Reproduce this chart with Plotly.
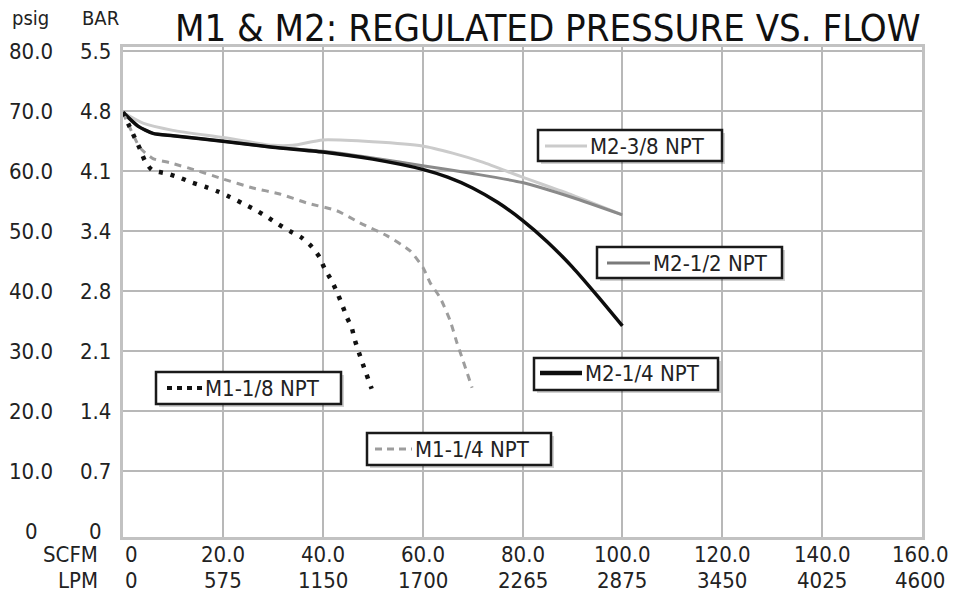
import plotly.graph_objects as go

# ---------------- data (SCFM vs psig) ----------------
m2_38_x = [0, 4, 10, 20, 30, 34, 40, 50, 60, 66, 72, 80, 90, 100]
m2_38_y = [69.8, 68.0, 66.8, 65.6, 64.3, 64.3, 65.2, 64.9, 64.2, 63.0, 61.5, 59.0, 56.0, 52.7]

m2_12_x = [0, 3, 6, 10, 20, 30, 40, 50, 60, 70, 80, 90, 100]
m2_12_y = [69.8, 67.5, 66.3, 65.9, 65.0, 64.0, 63.3, 62.2, 60.9, 59.6, 58.1, 55.6, 52.7]

m2_14_x = [0, 3, 6, 10, 20, 30, 40, 50, 60, 65, 70, 75, 80, 85, 90, 95, 100]
m2_14_y = [69.8, 67.5, 66.3, 65.9, 65.0, 64.0, 63.2, 62.0, 60.3, 59.0, 57.2, 54.8, 51.8, 48.2, 44.0, 39.2, 34.2]

m1_18_x = [0, 2.0, 3.4, 4.4, 5.8, 8.8, 11.4, 13.8, 16.4, 19.0, 21.4, 24.0, 26.4, 28.8, 31.0, 33.4,
           35.8, 37.8, 39.4, 40.4, 41.8, 42.8, 43.8, 44.8, 45.8, 46.4, 48.0, 49.8]
m1_18_y = [69.8, 66.2, 63.7, 61.7, 60.2, 59.6, 58.9, 58.1, 57.4, 56.6, 55.7, 54.6, 53.6, 52.4, 51.2, 50.0,
           48.9, 47.4, 45.6, 43.7, 41.7, 39.9, 37.9, 35.7, 33.9, 31.9, 27.9, 23.7]

m1_14_x = [0, 1.4, 3.4, 6.0, 9.4, 14.8, 20.0, 26.0, 31.4, 36.8, 42.8, 47.4, 52.9, 57.5, 60.1, 61.5,
           63.5, 65.5, 66.9, 68.1, 69.9]
m1_14_y = [69.7, 67.2, 63.9, 62.1, 61.4, 60.1, 58.7, 57.2, 56.2, 54.7, 53.4, 51.4, 49.2, 46.7, 43.9, 41.4,
           38.9, 35.1, 31.3, 28.4, 23.9]

# ---------------- tick labels ----------------
psig_vals = [0, 10, 20, 30, 40, 50, 60, 70, 80]
psig_text = ["0", "10.0", "20.0", "30.0", "40.0", "50.0", "60.0", "70.0", "80.0"]
bar_text = ["0", "0.7", "1.4", "2.1", "2.8", "3.4", "4.1", "4.8", "5.5"]
scfm_vals = [0, 20, 40, 60, 80, 100, 120, 140, 160]
scfm_text = ["0", "20.0", "40.0", "60.0", "80.0", "100.0", "120.0", "140.0", "160.0"]
lpm_text = ["0", "575", "1150", "1700", "2265", "2875", "3450", "4025", "4600"]

legend_names = ["M2-3/8 NPT", "M2-1/2 NPT", "M2-1/4 NPT", "M1-1/8 NPT", "M1-1/4 NPT"]

# ---------------- layout geometry ----------------
W, H = 954, 604
L, R, T, B = 123, 922, 47, 537
TXT = "#222222"
NARROW = "DejaVu Sans Condensed, Liberation Sans Narrow, Liberation Sans, sans-serif"
TICK = 22


def px(xp):
    return (xp - L) / (R - L)


def py(yp):
    return (B - yp) / (B - T)


fig = go.Figure()

GRAY_L = "#cbcbcb"
GRAY_M = "#8a8a8a"
GRAY_D = "#9d9d9d"

fig.add_trace(go.Scatter(x=m2_38_x, y=m2_38_y, mode="lines", line=dict(color=GRAY_L, width=3, shape="spline", smoothing=0.6), name=legend_names[0]))
fig.add_trace(go.Scatter(x=m2_12_x, y=m2_12_y, mode="lines", line=dict(color=GRAY_M, width=3, shape="spline", smoothing=0.6), name=legend_names[1]))
fig.add_trace(go.Scatter(x=m2_14_x, y=m2_14_y, mode="lines", line=dict(color="#0d0d0d", width=3.5, shape="spline", smoothing=0.6), name=legend_names[2]))
fig.add_trace(go.Scatter(x=m1_14_x, y=m1_14_y, mode="lines", line=dict(color=GRAY_D, width=3, dash="7px,6px", shape="spline", smoothing=0.6), name=legend_names[4]))
fig.add_trace(go.Scatter(x=m1_18_x, y=m1_18_y, mode="lines", line=dict(color="#111111", width=4.5, dash="4px,8px", shape="spline", smoothing=0.6), name=legend_names[3]))

ann = []
# title
ann.append(dict(text="M1 &amp; M2: REGULATED PRESSURE VS. FLOW", x=px(548), y=py(28), xref="paper", yref="paper",
                xanchor="center", yanchor="middle", showarrow=False,
                font=dict(family=NARROW, size=38, color="#111111")))
# headers
ann.append(dict(text="psig", x=px(30), y=py(18), xref="paper", yref="paper", xanchor="center", yanchor="middle",
                showarrow=False, font=dict(family=NARROW, size=20, color=TXT)))
ann.append(dict(text="BAR", x=px(100), y=py(18), xref="paper", yref="paper", xanchor="center", yanchor="middle",
                showarrow=False, font=dict(family=NARROW, size=20, color=TXT)))
# left tick labels
for v, t1, t2 in zip(psig_vals, psig_text, bar_text):
    ann.append(dict(text=t1, x=px(31), y=v, xref="paper", yref="y", xanchor="center", yanchor="middle",
                    showarrow=False, font=dict(family=NARROW, size=TICK, color=TXT)))
    ann.append(dict(text=t2, x=px(95), y=v, xref="paper", yref="y", xanchor="center", yanchor="middle",
                    showarrow=False, font=dict(family=NARROW, size=TICK, color=TXT)))
# bottom tick labels
ann.append(dict(text="SCFM", x=px(100), y=py(554), xref="paper", yref="paper", xanchor="right", yanchor="middle",
                showarrow=False, font=dict(family=NARROW, size=TICK, color=TXT)))
ann.append(dict(text="LPM", x=px(100), y=py(580), xref="paper", yref="paper", xanchor="right", yanchor="middle",
                showarrow=False, font=dict(family=NARROW, size=TICK, color=TXT)))
for v, t1, t2 in zip(scfm_vals, scfm_text, lpm_text):
    xs = 8 if v == 0 else (-2 if v == 160 else 0)
    ann.append(dict(text=t1, x=v, y=py(554), xref="x", yref="paper", xanchor="center", yanchor="middle", xshift=xs,
                    showarrow=False, font=dict(family=NARROW, size=TICK, color=TXT)))
    ann.append(dict(text=t2, x=v, y=py(580), xref="x", yref="paper", xanchor="center", yanchor="middle", xshift=xs,
                    showarrow=False, font=dict(family=NARROW, size=TICK, color=TXT)))

# legend boxes
boxes = [
    # (x0, y0, x1, y1, line_x0, line_x1, line_y, color, width, dash)
    (538, 130, 722, 161, 545, 587, 146, GRAY_L, 3, "solid"),
    (597, 247, 782, 278, 607, 650, 263, "#7a7a7a", 3, "solid"),
    (534, 358, 718, 390, 540, 582, 373, "#0d0d0d", 4.5, "solid"),
    (156, 372, 341, 404, 167, 202, 388, "#111111", 4, "5px,5px"),
    (367, 433, 551, 465, 375, 412, 449, GRAY_D, 3, "7px,5px"),
]
shapes = []
for (x0, y0, x1, y1, lx0, lx1, ly, col, w, dash), name in zip(boxes, legend_names):
    shapes.append(dict(type="rect", xref="paper", yref="paper", x0=px(x0 + 3), x1=px(x1 + 3), y0=py(y0 + 3), y1=py(y1 + 3),
                       fillcolor="rgba(0,0,0,0.18)", line=dict(width=0), layer="above"))
    shapes.append(dict(type="rect", xref="paper", yref="paper", x0=px(x0), x1=px(x1), y0=py(y0), y1=py(y1),
                       fillcolor="white", line=dict(color="#1a1a1a", width=2.5), layer="above"))
    shapes.append(dict(type="line", xref="paper", yref="paper", x0=px(lx0), x1=px(lx1), y0=py(ly), y1=py(ly),
                       line=dict(color=col, width=w, dash=dash), layer="above"))
    ann.append(dict(text=name, x=px(lx1 + 1), y=py(ly), xref="paper", yref="paper", xanchor="left", yanchor="middle",
                    showarrow=False, font=dict(family=NARROW, size=22, color=TXT)))

fig.update_layout(
    width=W, height=H, autosize=False,
    margin=dict(l=L, r=W - R, t=T, b=H - B, pad=0),
    paper_bgcolor="white", plot_bgcolor="white",
    showlegend=False,
    annotations=ann, shapes=shapes,
    xaxis=dict(range=[0, 160], tickvals=scfm_vals[1:-1], showticklabels=False, ticks="",
               showgrid=True, gridcolor="#b8b8b8", gridwidth=2, zeroline=False,
               showline=True, linecolor="#c2c2c2", linewidth=3, mirror=True),
    yaxis=dict(range=[-1.0, 80.7], tickvals=psig_vals[1:], showticklabels=False, ticks="",
               showgrid=True, gridcolor="#b8b8b8", gridwidth=2, zeroline=False,
               showline=True, linecolor="#c2c2c2", linewidth=3, mirror=True),
)

fig.write_html("out.html", config={"displayModeBar": False},
               post_script="document.body.style.margin='0';document.body.style.padding='0';")
